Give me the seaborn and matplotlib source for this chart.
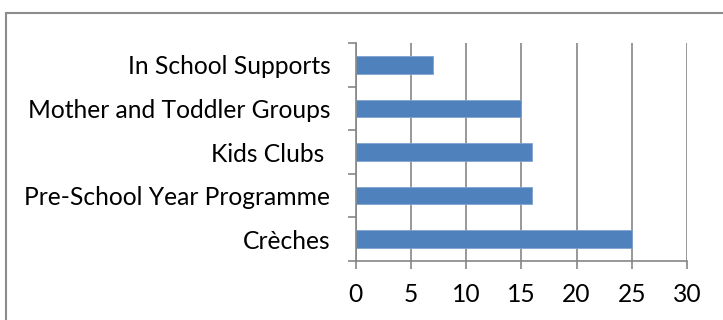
import matplotlib
matplotlib.use("Agg")
import matplotlib.pyplot as plt
from matplotlib.patches import Rectangle
from matplotlib.ticker import FixedLocator
import seaborn as sns
import pandas as pd

# Services and number of respondents using each
services = ["In School Supports", "Mother and Toddler Groups", "Kids Clubs ",
            "Pre-School Year Programme", "Crèches"]
counts = [7, 15, 16, 16, 25]
x_ticks = [0, 5, 10, 15, 20, 25, 30]

sns.set_theme(style="white")
plt.rcParams["font.family"] = ["Lato", "DejaVu Sans"]

df = pd.DataFrame({"service": services, "count": counts})

fig = plt.figure(figsize=(7.23, 3.2), dpi=100)
ax = fig.add_axes([355.5 / 723, 1 - 261 / 320, (687 - 355.5) / 723, (261 - 43) / 320])

sns.barplot(data=df, y="service", x="count", order=services, color="#4F81BD",
            width=0.4, saturation=1, ax=ax, orient="h", edgecolor="#7FA3D0",
            linewidth=0.6)

grid_c = "#868686"
ax.set_xlim(0, 30)
ax.set_ylim(len(services) - 0.5, -0.5)
ax.set_xticks(x_ticks)
ax.xaxis.grid(True, color=grid_c, linewidth=1.2)
ax.set_axisbelow(True)
ax.set_xlabel("")
ax.set_ylabel("")

for side in ["top", "right"]:
    ax.spines[side].set_visible(False)
for side in ["left", "bottom"]:
    ax.spines[side].set_color(grid_c)
    ax.spines[side].set_linewidth(1.2)

# category boundary ticks on the value axis
ax.yaxis.set_minor_locator(FixedLocator([i - 0.5 for i in range(len(services) + 1)]))
ax.tick_params(axis="y", which="minor", left=True, length=5.5, width=1.2, color=grid_c)
ax.tick_params(axis="y", which="major", left=False, length=0, pad=18, labelsize=17.7,
               labelcolor="black")
ax.tick_params(axis="x", which="major", bottom=True, length=5.5, width=1.2, color=grid_c,
               pad=10, labelsize=17.7, labelcolor="black")

# chart area frame
fig.patches.append(Rectangle((6 / 723, -0.2), 1.5, 1 - 13 / 320 + 0.2,
                             transform=fig.transFigure, fill=False,
                             edgecolor="#8C8C8C", linewidth=1.5))

fig.savefig("out.png", dpi=100)
